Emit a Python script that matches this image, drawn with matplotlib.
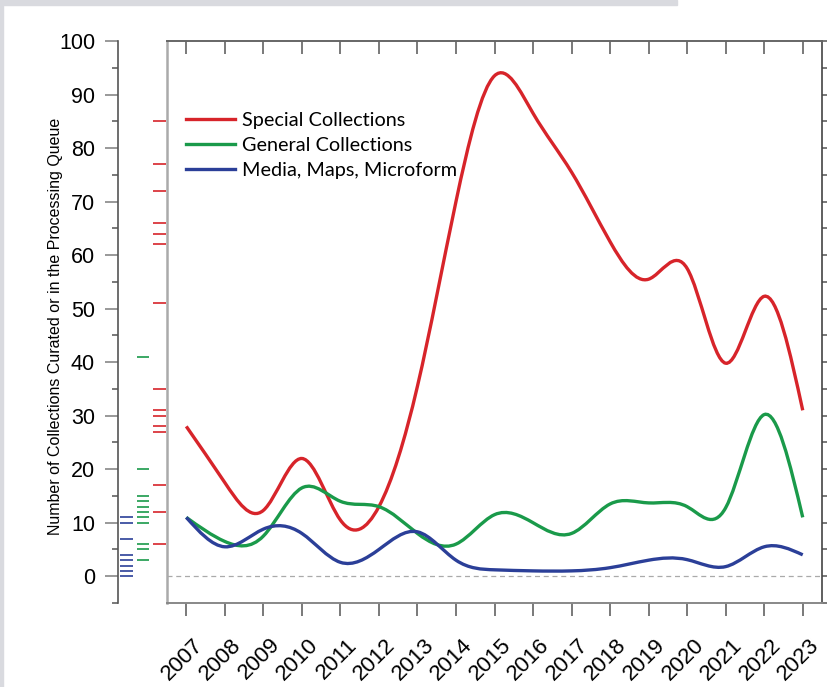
import numpy as np
import matplotlib
matplotlib.use("Agg")
import matplotlib.pyplot as plt
from matplotlib.path import Path
from matplotlib.patches import PathPatch, Rectangle
from matplotlib.lines import Line2D
from matplotlib.transforms import ScaledTranslation

# ---------------- data ----------------
years = list(range(2007, 2024))
special = [28, 17.5, 12.3, 22, 10.5, 13, 35.5, 70, 93.5, 86.5, 75.5, 62.5, 55.5, 57.5, 39.8, 52.3, 31]
general = [11, 6.5, 7.5, 16.5, 14, 13, 8, 6, 11.5, 10, 8, 13.5, 13.7, 13, 12.8, 30.2, 11]
media = [11, 5.5, 8.8, 8, 2.6, 5, 8.3, 3, 1.2, 1, 1, 1.6, 3, 3.1, 1.8, 5.5, 4]

rug_special = [85, 77, 72, 66, 64, 62, 51, 35, 31, 30, 28, 27, 17, 12, 6]
rug_general = [41, 20, 15, 14, 13, 12, 11, 10, 6, 5, 3]
rug_media = [11, 10, 7, 4, 3, 2, 1, 0]

series_names = ["Special Collections", "General Collections", "Media, Maps, Microform"]
colors = ["#d7242a", "#1a9a4a", "#2b3f98"]
y_major = list(range(0, 101, 10))
y_minor = list(range(-5, 100, 10))

W, H = 828, 687
fig = plt.figure(figsize=(W / 100, H / 100), dpi=100)
fig.patch.set_facecolor("white")

# screenshot border
fig.patches.append(Rectangle((0, (H - 5) / H), 677 / W, 5 / H, transform=fig.transFigure,
                             color="#d9dadf", zorder=0))
fig.patches.append(Rectangle((0, 0), 3 / W, 1, transform=fig.transFigure,
                             color="#d9dadf", zorder=0))


def spline_path(xs, ys):
    xs = np.asarray(xs, float)
    ys = np.asarray(ys, float)
    n = len(xs) - 1
    h = np.diff(xs)
    # natural cubic spline second derivatives
    A = np.zeros((n + 1, n + 1))
    b = np.zeros(n + 1)
    A[0, 0] = 1
    A[n, n] = 1
    for i in range(1, n):
        A[i, i - 1] = h[i - 1]
        A[i, i] = 2 * (h[i - 1] + h[i])
        A[i, i + 1] = h[i]
        b[i] = 6 * ((ys[i + 1] - ys[i]) / h[i] - (ys[i] - ys[i - 1]) / h[i - 1])
    M = np.linalg.solve(A, b)
    m = np.zeros(n + 1)
    for i in range(n):
        m[i] = (ys[i + 1] - ys[i]) / h[i] - h[i] * (2 * M[i] + M[i + 1]) / 6
    m[n] = (ys[n] - ys[n - 1]) / h[n - 1] + h[n - 1] * (M[n - 1] + 2 * M[n]) / 6
    verts = [(xs[0], ys[0])]
    codes = [Path.MOVETO]
    for i in range(n):
        verts += [(xs[i] + h[i] / 3, ys[i] + h[i] * m[i] / 3),
                  (xs[i + 1] - h[i] / 3, ys[i + 1] - h[i] * m[i + 1] / 3),
                  (xs[i + 1], ys[i + 1])]
        codes += [Path.CURVE4] * 3
    return Path(verts, codes)


# ---------------- main axes ----------------
ax = fig.add_axes([167 / W, 84 / H, 655 / W, 562 / H])
ax.set_xlim(2006.5, 2023.5)
ax.set_ylim(-5, 100)
ax.axhline(0, color="#aaaaaa", lw=0.9, ls=(0, (4, 3)), zorder=1)

for vals, c in zip([special, general, media], colors):
    ax.add_patch(PathPatch(spline_path(years, vals), fill=False, edgecolor=c,
                           lw=2.4, capstyle="butt", zorder=3))

ax.spines["left"].set_color("#aaaaaa")
ax.spines["left"].set_linewidth(1.8)
ax.spines["top"].set_color("#666666")
ax.spines["top"].set_linewidth(1.4)
ax.spines["right"].set_color("#444444")
ax.spines["right"].set_linewidth(1.2)
ax.spines["bottom"].set_color("#888888")
ax.spines["bottom"].set_linewidth(1.4)

ax.set_xticks(years)
ax.set_xticklabels([str(y) for y in years], rotation=45, ha="right", va="top",
                   rotation_mode="anchor", fontsize=16, family="Liberation Sans")
ax.tick_params(axis="x", direction="out", length=9.5, width=1.1, color="#555555",
               pad=13, top=False)
for lbl in ax.get_xticklabels():
    lbl.set_transform(lbl.get_transform() + ScaledTranslation(6 / 100, 0, fig.dpi_scale_trans))

sec = ax.secondary_xaxis("top")
sec.set_xticks(years)
sec.tick_params(direction="in", length=9.5, width=1.1, color="#555555", labeltop=False)
sec.spines["top"].set_visible(False)

ax.set_yticks(np.arange(-5, 101, 5))
ax.tick_params(axis="y", left=False, labelleft=False, right=True, direction="out",
               length=8, width=1.1, color="#555555")

handles = [Line2D([], [], color=c, lw=2.4) for c in colors]
ax.legend(handles, series_names, loc="upper left", bbox_to_anchor=(0.029, 0.874),
          frameon=False, prop={"family": "Lato", "size": 14.3}, handlelength=2.45,
          handletextpad=0.35, labelspacing=0.4, borderaxespad=0.0, borderpad=0.0)

# ---------------- left axis with rug ----------------
axl = fig.add_axes([118 / W, 84 / H, 49 / W, 562 / H])
axl.set_xlim(0, 1)
axl.set_ylim(-5, 100)
axl.patch.set_alpha(0)
for s in ["top", "right", "bottom"]:
    axl.spines[s].set_visible(False)
axl.spines["left"].set_color("#555555")
axl.spines["left"].set_linewidth(1.2)
axl.set_xticks([])
axl.set_yticks(y_major)
axl.set_yticks(y_minor, minor=True)
axl.set_yticklabels([str(v) for v in y_major], fontsize=15.5, family="Liberation Sans")
axl.tick_params(axis="y", which="major", length=9.5, width=1.2, color="#888888", pad=7)
axl.tick_params(axis="y", which="minor", length=4.5, width=1.1, color="#555555")

for vals, c, (x0, x1) in zip([rug_special, rug_general, rug_media], colors,
                             [(0.71, 0.97), (0.39, 0.64), (0.04, 0.31)]):
    axl.hlines(vals, x0, x1, colors=c, lw=1.2)

fig.text(56 / W, 1 - 326 / H, "Number of Collections Curated or in the Processing Queue",
         rotation=90, ha="center", va="center", fontsize=11.5, family="Liberation Sans")

fig.savefig("out.png", dpi=100)
